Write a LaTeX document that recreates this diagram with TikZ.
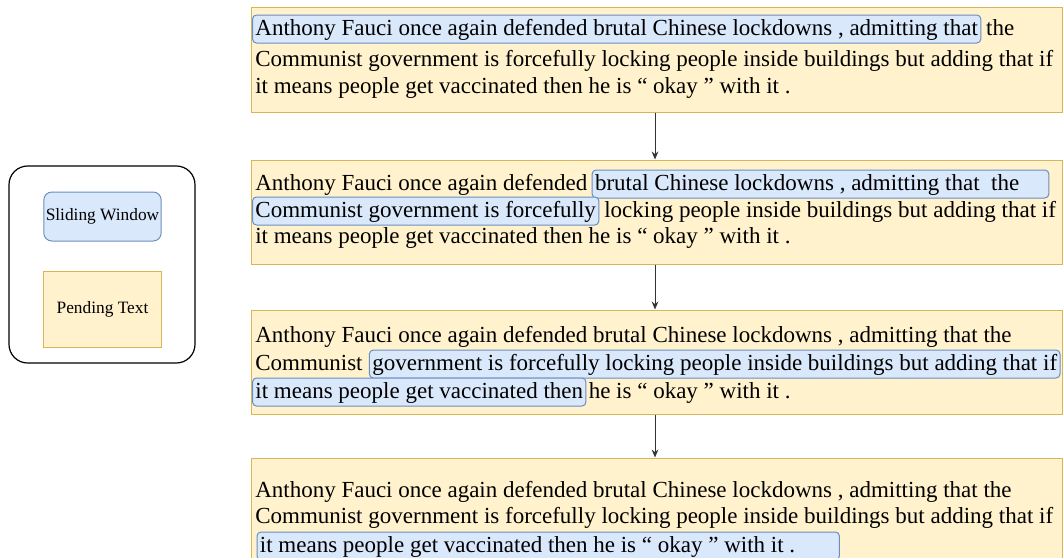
\documentclass[tikz,border=0pt]{standalone}
\usepackage{fontspec}
\setmainfont{Liberation Serif}
\usetikzlibrary{positioning, arrows.meta, fit}

\definecolor{winfill}{HTML}{DAE8FC}
\definecolor{winline}{HTML}{6C8EBF}
\definecolor{penfill}{HTML}{FFF2CC}
\definecolor{penline}{HTML}{D6B656}

\begin{document}
\begin{tikzpicture}[
	x=0.75pt, y=-0.75pt,
	>=stealth,
	font=\fontsize{17.25pt}{20pt}\selectfont,
	% Define styles
	pending/.style={rectangle, draw=penline, fill=penfill, line width=0.75pt, inner sep=0pt},
	window/.style={rectangle, draw=winline, fill=winfill, rounded corners=3pt, line width=0.75pt, inner xsep=2.2pt, inner ysep=3pt, text height=12pt, text depth=3pt, anchor=base west},
	plain/.style={inner sep=0pt, anchor=base west},
	legendbox/.style={rectangle, draw=black, rounded corners=14pt, line width=0.9pt, inner sep=0pt},
	keybox/.style={rectangle, minimum width=88pt, minimum height=#1, inner xsep=0pt, line width=0.75pt, font=\fontsize{13pt}{15pt}\selectfont},
	arrow/.style={-{Stealth[length=6pt, width=5pt]}, line width=0.75pt, black!80}
	]
	\useasboundingbox (0,0) rectangle (1064,557);
	
	% 1. Legend
	\node[legendbox, fit={(9,166) (195,363)}] (legend) {};
	\node[keybox=36.75pt, draw=winline, fill=winfill, rounded corners=6pt] (keywin) at (102.5,216.5) {Sliding Window};
	\node[keybox=57pt, draw=penline, fill=penfill] (keypen) at (102.5,309) {Pending Text};
	
	% 2. Pending text boxes
	\node[pending, fit={(251,7) (1062,112)}] (step1) {};
	\node[pending, fit={(251,160) (1062,264)}] (step2) {};
	\node[pending, fit={(251,310) (1062,414)}] (step3) {};
	\node[pending, fit={(251,458) (1062,580)}] (step4) {};
	
	% 3. Window positions, line by line
	% step 1
	\node[window] (w1a) at (252,35) {Anthony Fauci once again defended brutal Chinese lockdowns , admitting that};
	\node[plain, base right=3.5pt of w1a] (t1a) {the};
	\node[plain] (t1b) at (255,66) {Communist government is forcefully locking people inside buildings but adding that if};
	\node[plain] (t1c) at (255,93) {it means people get vaccinated then he is “ okay ” with it .};
	
	% step 2
	\node[plain] (t2a) at (255,190) {Anthony Fauci once again defended};
	\node[window, base right=3pt of t2a] (w2a) {brutal Chinese lockdowns , admitting that\ \ the\rule{20pt}{0pt}};
	\node[window] (w2b) at (252,217) {Communist government is forcefully};
	\node[plain, base right=3.5pt of w2b] (t2b) {locking people inside buildings but adding that if};
	\node[plain] (t2c) at (255,243) {it means people get vaccinated then he is “ okay ” with it .};
	
	% step 3
	\node[plain] (t3a) at (255,342) {Anthony Fauci once again defended brutal Chinese lockdowns , admitting that the};
	\node[plain] (t3b) at (255,370) {Communist};
	\node[window, base right=4.5pt of t3b] (w3b) {government is forcefully locking people inside buildings but adding that if};
	\node[window] (w3c) at (252,398) {it means people get vaccinated then};
	\node[plain, base right=1.5pt of w3c] (t3c) {he is “ okay ” with it .};
	
	% step 4
	\node[plain] (t4a) at (255,497) {Anthony Fauci once again defended brutal Chinese lockdowns , admitting that the};
	\node[plain] (t4b) at (255,523) {Communist government is forcefully locking people inside buildings but adding that if};
	\node[window] (w4c) at (256.5,552) {it means people get vaccinated then he is “ okay ” with it .\rule{31pt}{0pt}};
	
	% 4. Sliding arrows
	\coordinate (mid) at (655,0);
	\draw[arrow] (step1.south -| mid) -- (step2.north -| mid);
	\draw[arrow] (step2.south -| mid) -- (step3.north -| mid);
	\draw[arrow] (step3.south -| mid) -- (step4.north -| mid);
\end{tikzpicture}
\end{document}
